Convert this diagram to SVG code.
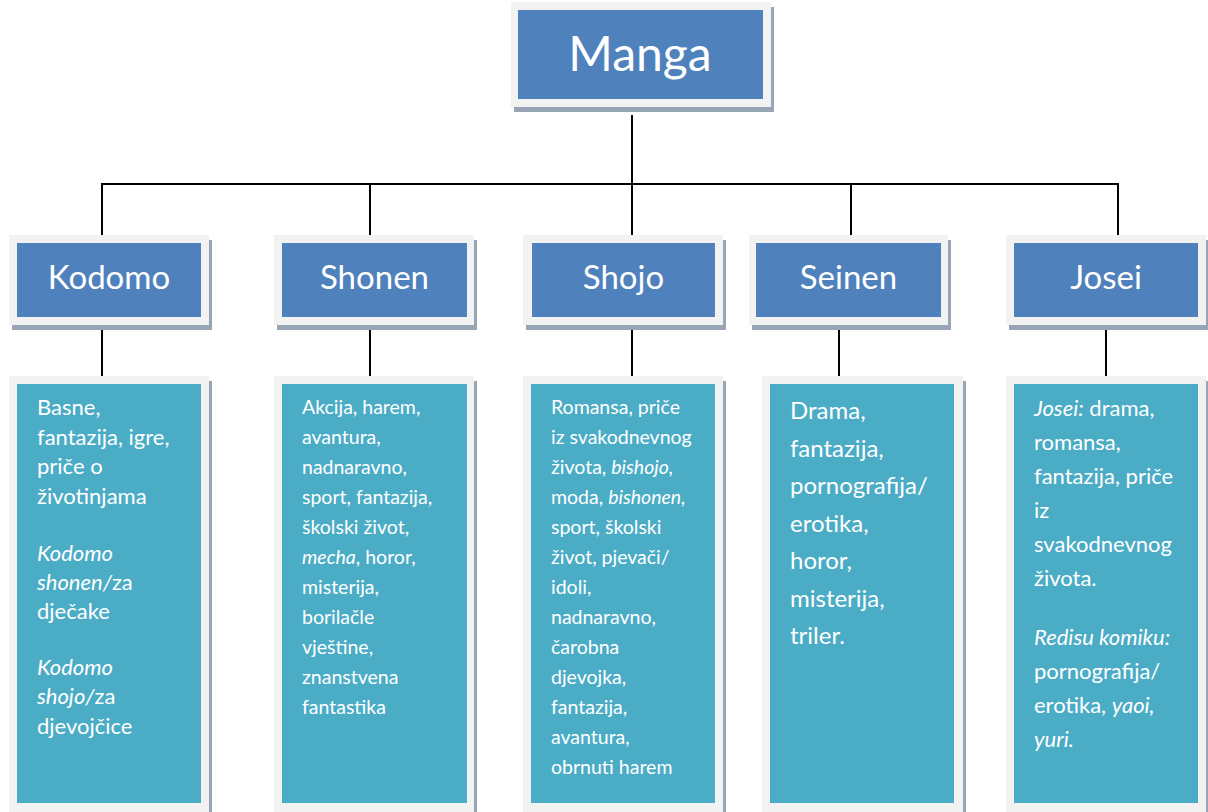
<svg xmlns="http://www.w3.org/2000/svg" width="1208" height="812" viewBox="0 0 1208 812">
<style>
  .frame { fill: #f2f2f2; }
  .shadow { fill: #98a5b7; }
  .hdr { fill: #4f81bd; }
  .det { fill: #4bacc6; }
  .conn { stroke: #000; stroke-width: 2; fill: none; }
  text { font-family: Lato, "Open Sans", "Liberation Sans", sans-serif; fill: #ffffff; }
  .title { font-size: 48px; text-anchor: middle; }
  .lbl { font-size: 33px; text-anchor: middle; }
  .it { font-style: italic; }
</style>
<rect width="1208" height="812" fill="#ffffff"/>

<g id="connectors" class="conn">
  <line x1="632" y1="115" x2="632" y2="184"/>
  <line x1="101" y1="184" x2="1119" y2="184"/>
  <line x1="102" y1="184" x2="102" y2="239"/>
  <line x1="370" y1="184" x2="370" y2="239"/>
  <line x1="632" y1="184" x2="632" y2="239"/>
  <line x1="851" y1="184" x2="851" y2="239"/>
  <line x1="1118" y1="184" x2="1118" y2="250"/>
  <line x1="102" y1="322" x2="102" y2="379"/>
  <line x1="370" y1="330" x2="370" y2="379"/>
  <line x1="632" y1="330" x2="632" y2="379"/>
  <line x1="839" y1="330" x2="839" y2="379"/>
  <line x1="1106" y1="330" x2="1106" y2="379"/>
</g>

<g id="manga">
  <rect class="shadow" x="514" y="7" width="260" height="105"/>
  <rect class="frame" x="511" y="2" width="260" height="105"/>
  <rect class="hdr" x="518" y="10" width="245" height="89"/>
  <text class="title" x="640" y="71">Manga</text>
</g>

<g id="kodomo">
  <rect class="shadow" x="12" y="240" width="200" height="90"/>
  <rect class="frame" x="9" y="235" width="200" height="90"/>
  <rect class="hdr" x="17" y="243" width="184" height="74"/>
  <text class="lbl" x="109" y="289">Kodomo</text>
</g>
<g id="shonen">
  <rect class="shadow" x="277" y="240" width="200" height="90"/>
  <rect class="frame" x="274" y="235" width="200" height="90"/>
  <rect class="hdr" x="282" y="243" width="185" height="74"/>
  <text class="lbl" x="374.5" y="289">Shonen</text>
</g>
<g id="shojo">
  <rect class="shadow" x="526" y="240" width="200" height="90"/>
  <rect class="frame" x="523" y="235" width="200" height="90"/>
  <rect class="hdr" x="532" y="243" width="183" height="74"/>
  <text class="lbl" x="623.5" y="289">Shojo</text>
</g>
<g id="seinen">
  <rect class="shadow" x="752" y="240" width="199" height="90"/>
  <rect class="frame" x="749" y="235" width="199" height="90"/>
  <rect class="hdr" x="756" y="243" width="185" height="74"/>
  <text class="lbl" x="848.5" y="289">Seinen</text>
</g>
<g id="josei">
  <rect class="shadow" x="1009" y="240" width="200" height="90"/>
  <rect class="frame" x="1006" y="235" width="200" height="90"/>
  <rect class="hdr" x="1014" y="243" width="184" height="74"/>
  <text class="lbl" x="1106" y="289">Josei</text>
</g>

<g id="kodomo-details">
  <rect class="shadow" x="12" y="381" width="200" height="440"/>
  <rect class="frame" x="9" y="376" width="200" height="440"/>
  <rect class="det" x="17" y="384" width="184" height="419"/>
  <text font-size="22" x="37">
    <tspan x="37" y="415">Basne,</tspan>
    <tspan x="37" y="444.5">fantazija, igre,</tspan>
    <tspan x="37" y="474">priče o</tspan>
    <tspan x="37" y="503.5">životinjama</tspan>
    <tspan x="37" y="561" class="it">Kodomo</tspan>
    <tspan x="37" y="590"><tspan class="it">shonen/</tspan>za</tspan>
    <tspan x="37" y="619">dječake</tspan>
    <tspan x="37" y="675" class="it">Kodomo</tspan>
    <tspan x="37" y="704"><tspan class="it">shojo/</tspan>za</tspan>
    <tspan x="37" y="734">djevojčice</tspan>
  </text>
</g>

<g id="shonen-details">
  <rect class="shadow" x="277" y="381" width="200" height="440"/>
  <rect class="frame" x="274" y="376" width="200" height="440"/>
  <rect class="det" x="282" y="384" width="185" height="419"/>
  <text font-size="19.5">
    <tspan x="302" y="414">Akcija, harem,</tspan>
    <tspan x="302" y="444">avantura,</tspan>
    <tspan x="302" y="474">nadnaravno,</tspan>
    <tspan x="302" y="504">sport, fantazija,</tspan>
    <tspan x="302" y="534">školski život,</tspan>
    <tspan x="302" y="564"><tspan class="it">mecha</tspan>, horor,</tspan>
    <tspan x="302" y="594">misterija,</tspan>
    <tspan x="302" y="624">borilačle</tspan>
    <tspan x="302" y="654">vještine,</tspan>
    <tspan x="302" y="684">znanstvena</tspan>
    <tspan x="302" y="714">fantastika</tspan>
  </text>
</g>

<g id="shojo-details">
  <rect class="shadow" x="526" y="381" width="200" height="440"/>
  <rect class="frame" x="523" y="376" width="200" height="440"/>
  <rect class="det" x="531" y="384" width="184" height="419"/>
  <text font-size="19.5">
    <tspan x="551" y="414">Romansa, priče</tspan>
    <tspan x="551" y="444">iz svakodnevnog</tspan>
    <tspan x="551" y="474">života, <tspan class="it">bishojo,</tspan></tspan>
    <tspan x="551" y="504">moda, <tspan class="it">bishonen,</tspan></tspan>
    <tspan x="551" y="534">sport, školski</tspan>
    <tspan x="551" y="564">život, pjevači/</tspan>
    <tspan x="551" y="594">idoli,</tspan>
    <tspan x="551" y="624">nadnaravno,</tspan>
    <tspan x="551" y="654">čarobna</tspan>
    <tspan x="551" y="684">djevojka,</tspan>
    <tspan x="551" y="714">fantazija,</tspan>
    <tspan x="551" y="744">avantura,</tspan>
    <tspan x="551" y="774">obrnuti harem</tspan>
  </text>
</g>

<g id="seinen-details">
  <rect class="shadow" x="765" y="381" width="201" height="440"/>
  <rect class="frame" x="762" y="376" width="201" height="440"/>
  <rect class="det" x="770" y="384" width="184" height="419"/>
  <text font-size="24">
    <tspan x="790" y="419">Drama,</tspan>
    <tspan x="790" y="456.5">fantazija,</tspan>
    <tspan x="790" y="494">pornografija/</tspan>
    <tspan x="790" y="531.5">erotika,</tspan>
    <tspan x="790" y="569">horor,</tspan>
    <tspan x="790" y="606.5">misterija,</tspan>
    <tspan x="790" y="644">triler.</tspan>
  </text>
</g>

<g id="josei-details">
  <rect class="shadow" x="1009" y="381" width="200" height="440"/>
  <rect class="frame" x="1006" y="376" width="200" height="440"/>
  <rect class="det" x="1014" y="384" width="184" height="419"/>
  <text font-size="22">
    <tspan x="1034" y="416"><tspan class="it">Josei:</tspan> drama,</tspan>
    <tspan x="1034" y="450">romansa,</tspan>
    <tspan x="1034" y="484">fantazija, priče</tspan>
    <tspan x="1034" y="518">iz</tspan>
    <tspan x="1034" y="552">svakodnevnog</tspan>
    <tspan x="1034" y="586">života.</tspan>
    <tspan x="1034" y="645" class="it">Redisu komiku:</tspan>
    <tspan x="1034" y="679">pornografija/</tspan>
    <tspan x="1034" y="713">erotika, <tspan class="it">yaoi,</tspan></tspan>
    <tspan x="1034" y="747" class="it">yuri.</tspan>
  </text>
</g>
</svg>
